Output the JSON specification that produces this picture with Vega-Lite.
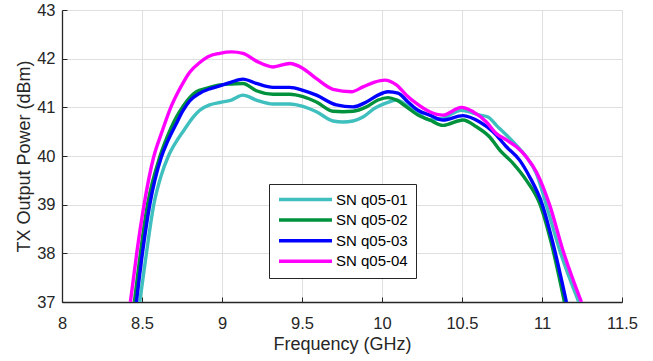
{
  "$schema": "https://vega.github.io/schema/vega-lite/v6.json",
  "width": 560,
  "height": 292,
  "autosize": {"type": "none"},
  "padding": {"left": 62, "top": 10, "right": 31, "bottom": 59},
  "background": "white",
  "config": {"view": {"stroke": null}, "font": "Liberation Sans"},
  "data": {"values": [
    {"sn":"SN q05-01","f":8.486,"p":37.0},{"sn":"SN q05-01","f":8.5275,"p":38.0},{"sn":"SN q05-01","f":8.573,"p":38.99},{"sn":"SN q05-01","f":8.62,"p":39.6},{"sn":"SN q05-01","f":8.6625,"p":39.98},{"sn":"SN q05-01","f":8.715,"p":40.3},{"sn":"SN q05-01","f":8.756,"p":40.5},{"sn":"SN q05-01","f":8.82,"p":40.8},{"sn":"SN q05-01","f":8.861,"p":40.94},{"sn":"SN q05-01","f":8.923,"p":41.05},{"sn":"SN q05-01","f":8.986,"p":41.1},{"sn":"SN q05-01","f":9.059,"p":41.15},{"sn":"SN q05-01","f":9.131,"p":41.25},{"sn":"SN q05-01","f":9.215,"p":41.15},{"sn":"SN q05-01","f":9.319,"p":41.07},{"sn":"SN q05-01","f":9.423,"p":41.07},{"sn":"SN q05-01","f":9.506,"p":41.02},{"sn":"SN q05-01","f":9.59,"p":40.91},{"sn":"SN q05-01","f":9.694,"p":40.72},{"sn":"SN q05-01","f":9.756,"p":40.7},{"sn":"SN q05-01","f":9.819,"p":40.72},{"sn":"SN q05-01","f":9.881,"p":40.8},{"sn":"SN q05-01","f":9.954,"p":40.98},{"sn":"SN q05-01","f":10.0275,"p":41.09},{"sn":"SN q05-01","f":10.09,"p":41.15},{"sn":"SN q05-01","f":10.1525,"p":41.05},{"sn":"SN q05-01","f":10.215,"p":40.91},{"sn":"SN q05-01","f":10.298,"p":40.74},{"sn":"SN q05-01","f":10.381,"p":40.78},{"sn":"SN q05-01","f":10.496,"p":40.94},{"sn":"SN q05-01","f":10.611,"p":40.84},{"sn":"SN q05-01","f":10.6625,"p":40.8},{"sn":"SN q05-01","f":10.715,"p":40.63},{"sn":"SN q05-01","f":10.7775,"p":40.43},{"sn":"SN q05-01","f":10.84,"p":40.22},{"sn":"SN q05-01","f":10.9025,"p":39.98},{"sn":"SN q05-01","f":10.965,"p":39.64},{"sn":"SN q05-01","f":11.0275,"p":38.99},{"sn":"SN q05-01","f":11.111,"p":38.06},{"sn":"SN q05-01","f":11.23,"p":37.0},
    {"sn":"SN q05-02","f":8.4525,"p":37.0},{"sn":"SN q05-02","f":8.534,"p":38.99},{"sn":"SN q05-02","f":8.611,"p":39.98},{"sn":"SN q05-02","f":8.65,"p":40.33},{"sn":"SN q05-02","f":8.715,"p":40.8},{"sn":"SN q05-02","f":8.756,"p":41.02},{"sn":"SN q05-02","f":8.798,"p":41.2},{"sn":"SN q05-02","f":8.84,"p":41.32},{"sn":"SN q05-02","f":8.9025,"p":41.39},{"sn":"SN q05-02","f":8.986,"p":41.46},{"sn":"SN q05-02","f":9.059,"p":41.48},{"sn":"SN q05-02","f":9.131,"p":41.49},{"sn":"SN q05-02","f":9.215,"p":41.34},{"sn":"SN q05-02","f":9.319,"p":41.27},{"sn":"SN q05-02","f":9.423,"p":41.27},{"sn":"SN q05-02","f":9.506,"p":41.22},{"sn":"SN q05-02","f":9.59,"p":41.11},{"sn":"SN q05-02","f":9.694,"p":40.92},{"sn":"SN q05-02","f":9.756,"p":40.91},{"sn":"SN q05-02","f":9.819,"p":40.92},{"sn":"SN q05-02","f":9.9025,"p":41.01},{"sn":"SN q05-02","f":9.975,"p":41.15},{"sn":"SN q05-02","f":10.0375,"p":41.2},{"sn":"SN q05-02","f":10.09,"p":41.15},{"sn":"SN q05-02","f":10.1525,"p":41.01},{"sn":"SN q05-02","f":10.225,"p":40.84},{"sn":"SN q05-02","f":10.298,"p":40.74},{"sn":"SN q05-02","f":10.381,"p":40.63},{"sn":"SN q05-02","f":10.506,"p":40.74},{"sn":"SN q05-02","f":10.59,"p":40.6},{"sn":"SN q05-02","f":10.673,"p":40.39},{"sn":"SN q05-02","f":10.736,"p":40.12},{"sn":"SN q05-02","f":10.819,"p":39.85},{"sn":"SN q05-02","f":10.9025,"p":39.5},{"sn":"SN q05-02","f":10.986,"p":39.02},{"sn":"SN q05-02","f":11.059,"p":38.2},{"sn":"SN q05-02","f":11.14,"p":37.0},
    {"sn":"SN q05-03","f":8.465,"p":37.0},{"sn":"SN q05-03","f":8.5025,"p":38.0},{"sn":"SN q05-03","f":8.548,"p":38.99},{"sn":"SN q05-03","f":8.621,"p":39.98},{"sn":"SN q05-03","f":8.66,"p":40.3},{"sn":"SN q05-03","f":8.715,"p":40.67},{"sn":"SN q05-03","f":8.756,"p":40.93},{"sn":"SN q05-03","f":8.798,"p":41.13},{"sn":"SN q05-03","f":8.861,"p":41.29},{"sn":"SN q05-03","f":8.923,"p":41.38},{"sn":"SN q05-03","f":8.986,"p":41.44},{"sn":"SN q05-03","f":9.059,"p":41.52},{"sn":"SN q05-03","f":9.131,"p":41.58},{"sn":"SN q05-03","f":9.215,"p":41.49},{"sn":"SN q05-03","f":9.319,"p":41.41},{"sn":"SN q05-03","f":9.423,"p":41.41},{"sn":"SN q05-03","f":9.506,"p":41.35},{"sn":"SN q05-03","f":9.59,"p":41.25},{"sn":"SN q05-03","f":9.715,"p":41.05},{"sn":"SN q05-03","f":9.819,"p":41.01},{"sn":"SN q05-03","f":9.9025,"p":41.11},{"sn":"SN q05-03","f":9.975,"p":41.25},{"sn":"SN q05-03","f":10.0375,"p":41.32},{"sn":"SN q05-03","f":10.1,"p":41.29},{"sn":"SN q05-03","f":10.1625,"p":41.11},{"sn":"SN q05-03","f":10.225,"p":40.94},{"sn":"SN q05-03","f":10.298,"p":40.84},{"sn":"SN q05-03","f":10.381,"p":40.74},{"sn":"SN q05-03","f":10.506,"p":40.83},{"sn":"SN q05-03","f":10.611,"p":40.7},{"sn":"SN q05-03","f":10.694,"p":40.5},{"sn":"SN q05-03","f":10.7775,"p":40.19},{"sn":"SN q05-03","f":10.861,"p":39.91},{"sn":"SN q05-03","f":10.923,"p":39.57},{"sn":"SN q05-03","f":11.0,"p":39.02},{"sn":"SN q05-03","f":11.069,"p":38.2},{"sn":"SN q05-03","f":11.1525,"p":37.0},
    {"sn":"SN q05-04","f":8.4275,"p":37.0},{"sn":"SN q05-04","f":8.467,"p":38.0},{"sn":"SN q05-04","f":8.5125,"p":38.99},{"sn":"SN q05-04","f":8.573,"p":39.98},{"sn":"SN q05-04","f":8.625,"p":40.5},{"sn":"SN q05-04","f":8.68,"p":41.0},{"sn":"SN q05-04","f":8.723,"p":41.3},{"sn":"SN q05-04","f":8.765,"p":41.55},{"sn":"SN q05-04","f":8.798,"p":41.72},{"sn":"SN q05-04","f":8.861,"p":41.92},{"sn":"SN q05-04","f":8.9125,"p":42.04},{"sn":"SN q05-04","f":8.986,"p":42.11},{"sn":"SN q05-04","f":9.059,"p":42.14},{"sn":"SN q05-04","f":9.131,"p":42.11},{"sn":"SN q05-04","f":9.215,"p":41.95},{"sn":"SN q05-04","f":9.319,"p":41.83},{"sn":"SN q05-04","f":9.423,"p":41.9},{"sn":"SN q05-04","f":9.506,"p":41.8},{"sn":"SN q05-04","f":9.59,"p":41.59},{"sn":"SN q05-04","f":9.694,"p":41.37},{"sn":"SN q05-04","f":9.809,"p":41.32},{"sn":"SN q05-04","f":9.881,"p":41.42},{"sn":"SN q05-04","f":9.954,"p":41.52},{"sn":"SN q05-04","f":10.017,"p":41.56},{"sn":"SN q05-04","f":10.09,"p":41.46},{"sn":"SN q05-04","f":10.1525,"p":41.25},{"sn":"SN q05-04","f":10.215,"p":41.08},{"sn":"SN q05-04","f":10.298,"p":40.91},{"sn":"SN q05-04","f":10.381,"p":40.84},{"sn":"SN q05-04","f":10.496,"p":41.0},{"sn":"SN q05-04","f":10.569,"p":40.91},{"sn":"SN q05-04","f":10.6525,"p":40.7},{"sn":"SN q05-04","f":10.715,"p":40.46},{"sn":"SN q05-04","f":10.7775,"p":40.33},{"sn":"SN q05-04","f":10.84,"p":40.19},{"sn":"SN q05-04","f":10.9025,"p":39.98},{"sn":"SN q05-04","f":10.965,"p":39.67},{"sn":"SN q05-04","f":11.048,"p":38.99},{"sn":"SN q05-04","f":11.131,"p":38.06},{"sn":"SN q05-04","f":11.246,"p":37.0}
  ]},
  "mark": {"type": "line", "strokeWidth": 3.4, "clip": true, "interpolate": "monotone"},
  "encoding": {
    "x": {
      "field": "f", "type": "quantitative",
      "scale": {"domain": [8, 11.5], "nice": false, "zero": false},
      "axis": {
        "values": [8, 8.5, 9, 9.5, 10, 10.5, 11, 11.5],
        "format": "~g", "labelFlush": false,
        "title": "Frequency (GHz)",
        "grid": true, "gridColor": "#dfdfdf", "gridWidth": 1,
        "domainColor": "#262626", "domainWidth": 1.3,
        "tickColor": "#262626", "tickSize": -5, "tickWidth": 1,
        "labelFontSize": 16.5, "labelColor": "#262626", "labelPadding": 18.5,
        "titleFontSize": 18, "titleFontWeight": "normal", "titleColor": "#262626", "titlePadding": 3
      }
    },
    "y": {
      "field": "p", "type": "quantitative",
      "scale": {"domain": [37, 43], "nice": false, "zero": false},
      "axis": {
        "values": [37, 38, 39, 40, 41, 42, 43],
        "labelFlush": false,
        "title": "TX Output Power (dBm)",
        "grid": true, "gridColor": "#dfdfdf", "gridWidth": 1,
        "domainColor": "#262626", "domainWidth": 1.3,
        "tickColor": "#262626", "tickSize": -5, "tickWidth": 1,
        "labelFontSize": 16.5, "labelColor": "#262626", "labelPadding": 12,
        "titleFontSize": 18, "titleFontWeight": "normal", "titleColor": "#262626", "titlePadding": 3
      }
    },
    "color": {
      "field": "sn", "type": "nominal",
      "scale": {"domain": ["SN q05-01", "SN q05-02", "SN q05-03", "SN q05-04"], "range": ["#40bfbf", "#00913c", "#0000ff", "#ff00ff"]},
      "legend": {
        "orient": "none", "legendX": 207, "legendY": 174, "title": null,
        "symbolType": "M-5.3,0H5.3", "symbolSize": 100, "symbolStrokeWidth": 3.5,
        "labelFontSize": 15, "labelColor": "#000000", "labelLimit": 200,
        "strokeColor": "#262626", "fillColor": "white", "padding": 8, "rowPadding": 4.6,
        "symbolOffset": 21, "labelOffset": 23
      }
    }
  }
}
